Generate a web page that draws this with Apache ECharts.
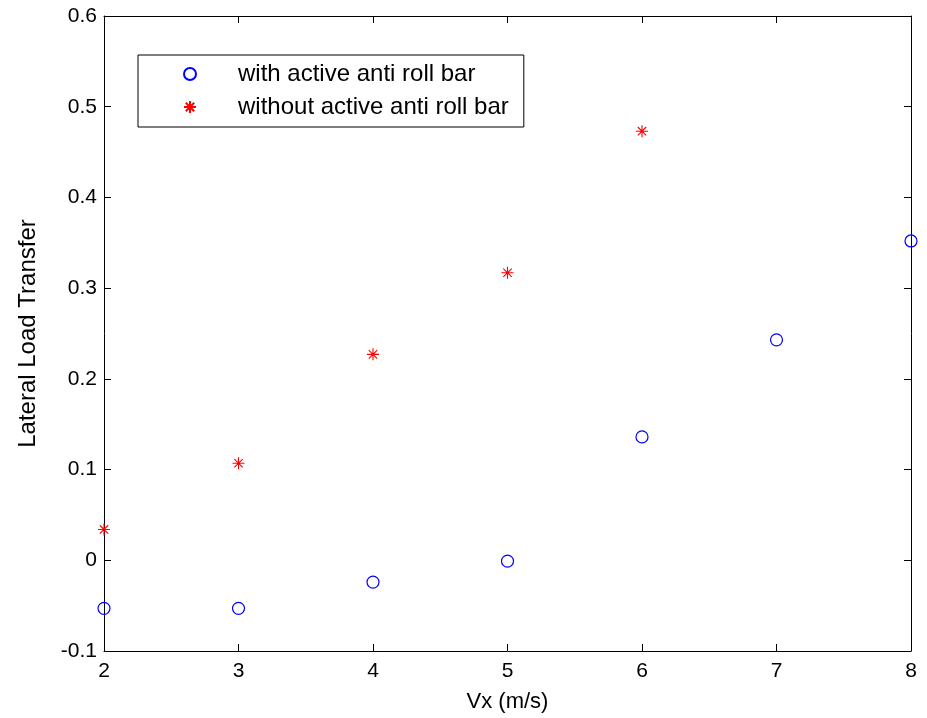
<!DOCTYPE html>
<html><head><meta charset="utf-8">
<script src="https://cdn.jsdelivr.net/npm/echarts@6/dist/echarts.min.js"></script>
<style>html,body{margin:0;padding:0;background:#fff}#c{width:927px;height:718px}</style>
</head><body><div id="c"></div>
<script>
var vx = [2, 3, 4, 5, 6, 7, 8];
var withBar = [-0.053, -0.053, -0.024, -0.001, 0.136, 0.243, 0.352];
var vxWithout = [2, 3, 4, 5, 6];
var withoutBar = [0.034, 0.107, 0.227, 0.317, 0.473];
var seriesNames = ['with active anti roll bar', 'without active anti roll bar'];
var xName = 'Vx (m/s)';
var yName = 'Lateral Load Transfer';

var star = 'path://M0,-10 L0,10 M-10,0 L10,0 M-7,-7 L7,7 M-7,7 L7,-7';
var font = 'Liberation Sans, Arial, sans-serif';
var chart = echarts.init(document.getElementById('c'));
var axisLine = {show: true, onZero: false, lineStyle: {color: '#000', width: 1}};
var tick = {inside: true, length: 7, lineStyle: {color: '#000'}};
chart.setOption({
  animation: false,
  backgroundColor: '#fff',
  grid: {left: 104, top: 16, right: 16, bottom: 66},
  legend: {
    orient: 'vertical', left: 138, top: 55,
    padding: [7, 15, 8, 45],
    itemWidth: 70, itemHeight: 12, itemGap: 9,
    borderColor: '#000', borderWidth: 1, backgroundColor: '#fff',
    textStyle: {fontFamily: font, fontSize: 24, color: '#000', padding: [0, 0, 0, 8]},
    data: seriesNames
  },
  xAxis: [{
    type: 'value', min: 2, max: 8, interval: 1, position: 'bottom',
    name: xName, nameLocation: 'middle', nameGap: 40,
    nameTextStyle: {fontFamily: font, fontSize: 22, color: '#000'},
    axisLine: axisLine, axisTick: tick,
    axisLabel: {fontFamily: font, fontSize: 21, color: '#000', margin: 10},
    splitLine: {show: false}
  }, {
    type: 'value', min: 2, max: 8, interval: 1, position: 'top',
    axisLine: axisLine, axisTick: tick,
    axisLabel: {show: false}, splitLine: {show: false}
  }],
  yAxis: [{
    type: 'value', min: -0.1, max: 0.6, interval: 0.1, position: 'left',
    name: yName, nameLocation: 'middle', nameGap: 64, nameRotate: 90,
    nameTextStyle: {fontFamily: font, fontSize: 24, color: '#000'},
    axisLine: axisLine, axisTick: tick,
    axisLabel: {fontFamily: font, fontSize: 21, color: '#000', margin: 7,
      formatter: function (v) { return Math.round(v * 10) / 10 + ''; }},
    splitLine: {show: false}
  }, {
    type: 'value', min: -0.1, max: 0.6, interval: 0.1, position: 'right',
    axisLine: axisLine, axisTick: tick,
    axisLabel: {show: false}, splitLine: {show: false}
  }],
  series: [{
    name: seriesNames[0], type: 'scatter', symbol: 'circle', symbolSize: 12,
    itemStyle: {color: 'rgba(0,0,0,0)', borderColor: '#0000ff', borderWidth: 1.2, opacity: 1},
    data: vx.map(function (x, i) { return [x, withBar[i]]; })
  }, {
    name: seriesNames[1], type: 'scatter', symbol: star, symbolSize: 12,
    itemStyle: {color: 'rgba(0,0,0,0)', borderColor: '#ff0000', borderWidth: 1.1, opacity: 1},
    data: vxWithout.map(function (x, i) { return [x, withoutBar[i]]; })
  }]
});
</script></body></html>
